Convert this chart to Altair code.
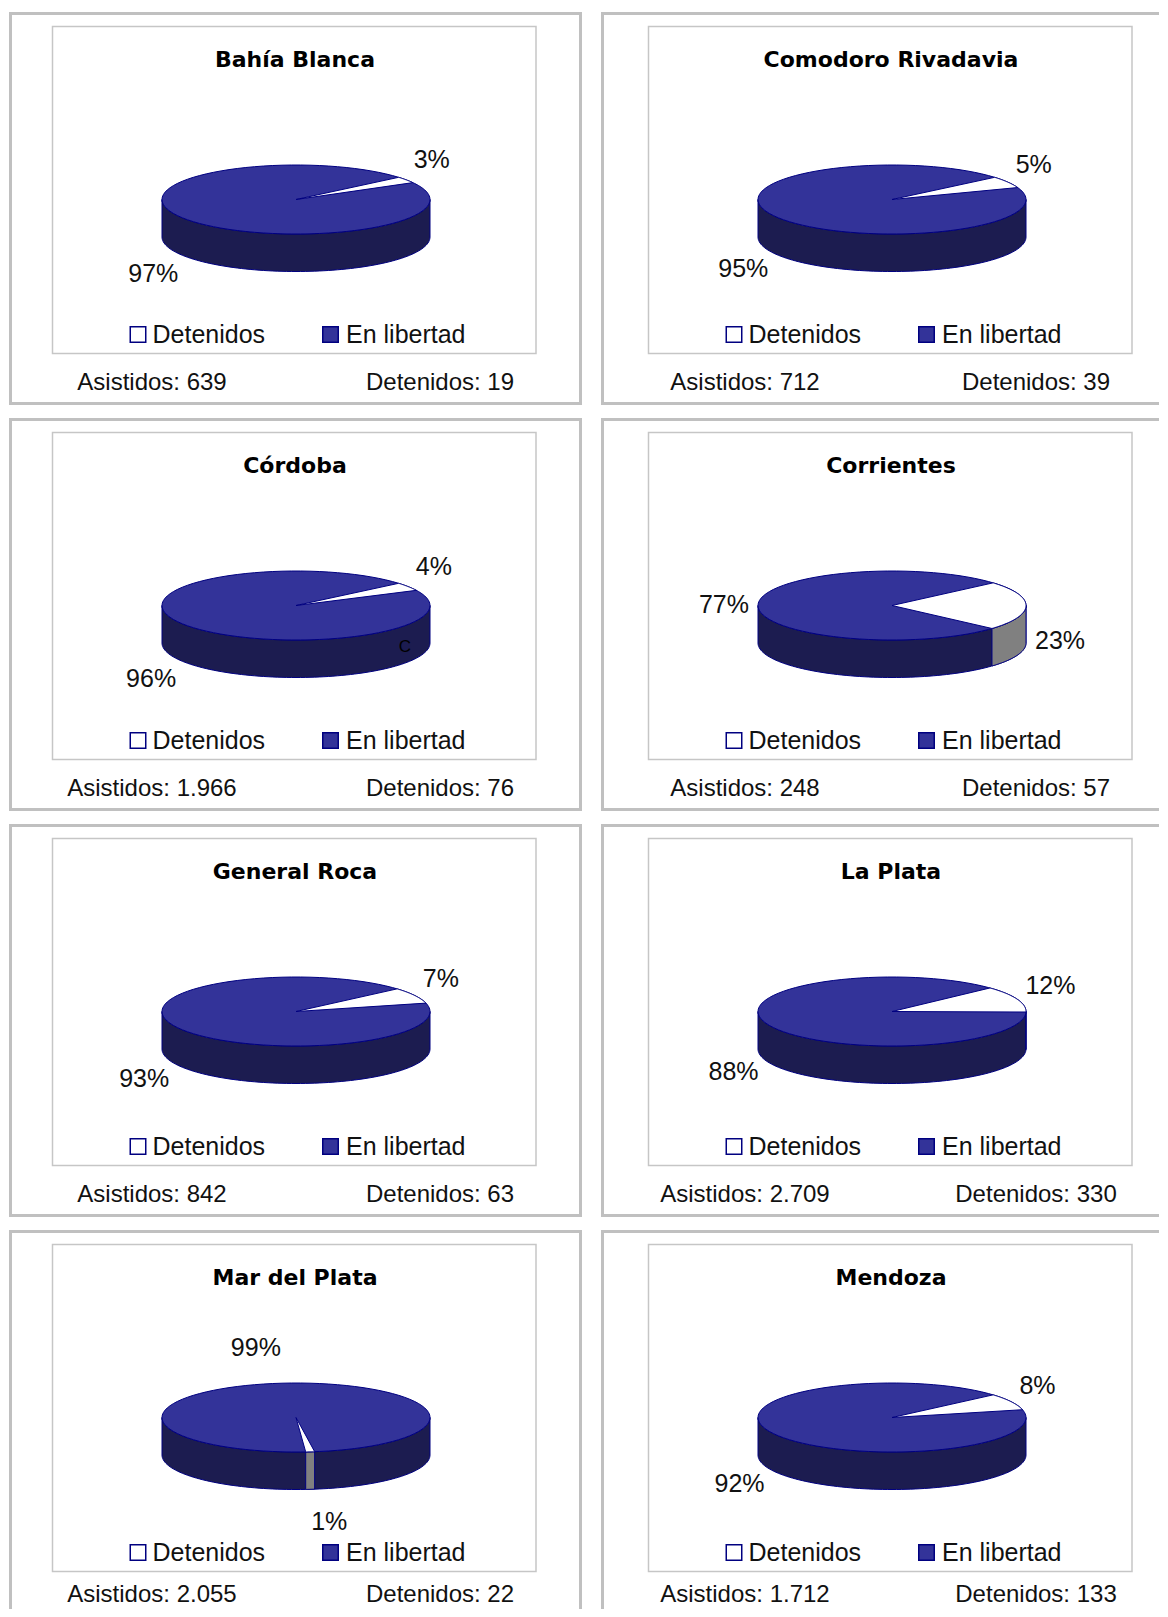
import altair as alt
import pandas as pd

alt.data_transformers.disable_max_rows()

# ---------------- datos ----------------
ciudades = ["Bahía Blanca", "Comodoro Rivadavia", "Córdoba", "Corrientes",
            "General Roca", "La Plata", "Mar del Plata", "Mendoza"]
asistidos = [639, 712, 1966, 248, 842, 2709, 2055, 1712]
detenidos = [19, 39, 76, 57, 63, 330, 22, 133]
# ángulo (grados, antihorario desde las 3) donde empieza la porción "Detenidos"; gira en sentido horario
angulo_inicio = [40, 40, 40, 41, 41, 43, -82, 41]
series = ["Detenidos", "En libertad"]
nota_ciudad = ["Córdoba"]
nota_texto = ["C"]

# ---------------- geometría / estilo ----------------
ANCHOS = [573, 558]            # ancho de cada columna (la derecha queda cortada por la ventana)
ALTOS = [393, 393, 393, 379]   # alto de cada fila (la última queda cortada)
DESPL_COL = [0, 4]             # corrimiento del contenido dentro del marco en cada columna
O = 1.5                        # medio grosor del marco exterior
CX0, CY, RX, RY, PROF = 285.5 + O, 186.0 + O, 134.0, 34.5, 37.5
N = 90
LA, LB, LD = 143.0, 69.7, 35.0
AZUL, AZUL_OSC, BORDE, GRIS = "#333399", "#1c1c50", "#000080", "#808080"
FUENTE = "Liberation Sans"
TINTA = "#111111"


def miles(v):
    return f"{v:,}".replace(",", ".")


resumen = pd.DataFrame({
    "ciudad": ciudades, "asistidos": asistidos, "detenidos": detenidos,
    "inicio": angulo_inicio,
    "txt_asistidos": [f"Asistidos: {miles(v)}" for v in asistidos],
    "txt_detenidos": [f"Detenidos: {miles(v)}" for v in detenidos],
})
base = resumen[["ciudad", "asistidos", "detenidos", "inicio"]]
partes = pd.DataFrame({"parte": ["lado", "lado_det", "tapa", "tapa_det"]})
pasos = pd.DataFrame({"k": list(range(2 * N + 2))})
geo = base.merge(partes, how="cross").merge(pasos, how="cross")
etiquetas = base.merge(pd.DataFrame({"serie": series}), how="cross")
notas = pd.DataFrame({"ciudad": nota_ciudad, "nota": nota_texto})


def calc_geo(cx):
    return dict(
        a0="datum.inicio",
        a1="datum.inicio - 360 * datum.detenidos / datum.asistidos",
        lo="datum.parte == 'lado' ? -180 : max(datum.a1, -180)",
        hi="datum.parte == 'lado' ? 0 : min(datum.a0, 0)",
        t=f"datum.k <= {N} ? datum.k / {N} : ({2 * N + 1} - datum.k) / {N}",
        phi=(f"datum.parte == 'tapa' ? 360 * datum.k / {N} : "
             f"(datum.parte == 'tapa_det' ? datum.a0 + (datum.a1 - datum.a0) * (datum.k - 1) / {N} : "
             f"datum.lo + (datum.hi - datum.lo) * datum.t)"),
        rad="datum.phi * PI / 180",
        apice="datum.parte == 'tapa_det' && datum.k == 0",
        px=f"datum.apice ? {cx} : {cx} + {RX} * cos(datum.rad)",
        py=(f"datum.apice ? {CY} : {CY} - {RY} * sin(datum.rad) + "
            f"((datum.parte == 'lado' || datum.parte == 'lado_det') && datum.k > {N} ? {PROF} : 0)"),
    )


valido = (f"(datum.parte == 'tapa' && datum.k <= {N}) || "
          f"(datum.parte == 'tapa_det' && datum.k <= {N + 1}) || datum.parte == 'lado' || "
          f"(datum.parte == 'lado_det' && datum.lo < datum.hi)")


def calc_etq(cx):
    return dict(
        fd="datum.detenidos / datum.asistidos",
        frac="datum.serie == 'Detenidos' ? datum.fd : 1 - datum.fd",
        medio=("datum.serie == 'Detenidos' ? datum.inicio - 180 * datum.fd : "
               "datum.inicio - 360 * datum.fd - 180 * (1 - datum.fd)"),
        rad="datum.medio * PI / 180",
        lx=f"{cx} + {LA} * cos(datum.rad)",
        ly=f"{CY} - {LB} * sin(datum.rad) + (sin(datum.rad) < 0 ? {LD} : 0)",
        txt="format(datum.frac, '.0%')",
    )


def f_ciudad(c):
    return alt.FieldEqualPredicate(field="ciudad", equal=c)


def panel(c, ancho, alto, dx, dy_pie):
    sx = alt.Scale(domain=[0, ancho], nice=False, zero=False)
    sy = alt.Scale(domain=[0, alto], nice=False, zero=False, reverse=True)
    cx = CX0 + dx
    X = O + dx

    def poligono(parte, relleno):
        return (alt.Chart(geo)
                .transform_filter(f_ciudad(c))
                .transform_filter(alt.FieldEqualPredicate(field="parte", equal=parte))
                .transform_calculate(**calc_geo(cx))
                .transform_filter(valido)
                .mark_line(interpolate="linear-closed", fill=relleno, stroke=BORDE,
                           strokeWidth=1, strokeJoin="round")
                .encode(x=alt.X("px:Q", scale=sx, axis=None),
                        y=alt.Y("py:Q", scale=sy, axis=None),
                        order=alt.Order("k:Q")))

    def etiqueta(derecha):
        cond = "cos(datum.rad) >= 0" if derecha else "cos(datum.rad) < 0"
        return (alt.Chart(etiquetas)
                .transform_filter(f_ciudad(c))
                .transform_calculate(**calc_etq(cx))
                .transform_filter(cond)
                .mark_text(font=FUENTE, fontSize=25, baseline="middle",
                           align="left" if derecha else "right", color=TINTA)
                .encode(x=alt.X("lx:Q", scale=sx, axis=None),
                        y=alt.Y("ly:Q", scale=sy, axis=None),
                        text="txt:N"))

    r = alt.Chart(resumen).transform_filter(f_ciudad(c))
    marco = r.mark_rect(fill="white", stroke="#c0c0c0", strokeWidth=3, clip=True).encode(
        x=alt.value(O), x2=alt.value(570 + O), y=alt.value(O), y2=alt.value(390 + O))
    caja = r.mark_rect(fill="white", stroke="#c6c6c6", strokeWidth=1.5).encode(
        x=alt.value(42 + X), x2=alt.value(525.5 + X), y=alt.value(13 + O), y2=alt.value(340 + O))
    titulo = r.mark_text(font="DejaVu Sans", fontWeight="bold", fontSize=22,
                         align="center", baseline="alphabetic", color="black").encode(
        x=alt.value(284.5 + X), y=alt.value(53.5 + O), text="ciudad:N")
    cuad1 = r.mark_square(size=240, fill="white", stroke=BORDE, strokeWidth=1.5, opacity=1).encode(
        x=alt.value(127.5 + X), y=alt.value(321 + O))
    cuad2 = r.mark_square(size=240, fill=AZUL, stroke=BORDE, strokeWidth=1.5, opacity=1).encode(
        x=alt.value(320 + X), y=alt.value(321 + O))
    ley1 = r.mark_text(font=FUENTE, fontSize=25, align="left", baseline="alphabetic",
                       color=TINTA).encode(x=alt.value(142 + X), y=alt.value(329.5 + O),
                                           text=alt.value(series[0]))
    ley2 = r.mark_text(font=FUENTE, fontSize=25, align="left", baseline="alphabetic",
                       color=TINTA).encode(x=alt.value(335.5 + X), y=alt.value(329.5 + O),
                                           text=alt.value(series[1]))
    pie1 = r.mark_text(font=FUENTE, fontSize=24, align="center", baseline="alphabetic",
                       color=TINTA).encode(x=alt.value(141.5 + O + dx / 4), y=alt.value(376.5 + O - dy_pie),
                                           text="txt_asistidos:N")
    pie2 = r.mark_text(font=FUENTE, fontSize=24, align="center", baseline="alphabetic",
                       color=TINTA).encode(x=alt.value(429.5 + X), y=alt.value(376.5 + O - dy_pie),
                                           text="txt_detenidos:N")
    nota = (alt.Chart(notas).transform_filter(f_ciudad(c))
            .mark_text(font=FUENTE, fontSize=17, align="center", baseline="middle", color="#000000")
            .encode(x=alt.value(394.5 + X), y=alt.value(227 + O), text="nota:N"))
    capas = [marco, caja,
             poligono("lado", AZUL_OSC), poligono("lado_det", GRIS),
             poligono("tapa", AZUL), poligono("tapa_det", "white"),
             nota, etiqueta(True), etiqueta(False),
             titulo, cuad1, cuad2, ley1, ley2, pie1, pie2]
    return alt.layer(*capas).properties(width=ancho, height=alto)


filas = []
for i in range(4):
    dy_pie = 6 if i == 3 else 0
    filas.append(alt.hconcat(
        panel(ciudades[2 * i], ANCHOS[0], ALTOS[i], DESPL_COL[0], dy_pie),
        panel(ciudades[2 * i + 1], ANCHOS[1], ALTOS[i], DESPL_COL[1], dy_pie),
        spacing=19))
chart = (alt.vconcat(*filas, spacing=13)
         .properties(padding={"left": 1, "top": 4, "right": 0, "bottom": 0}, background="white")
         .configure_view(strokeWidth=0, strokeOpacity=0))

chart.save("out.html", embed_options={"renderer": "svg", "actions": False})
